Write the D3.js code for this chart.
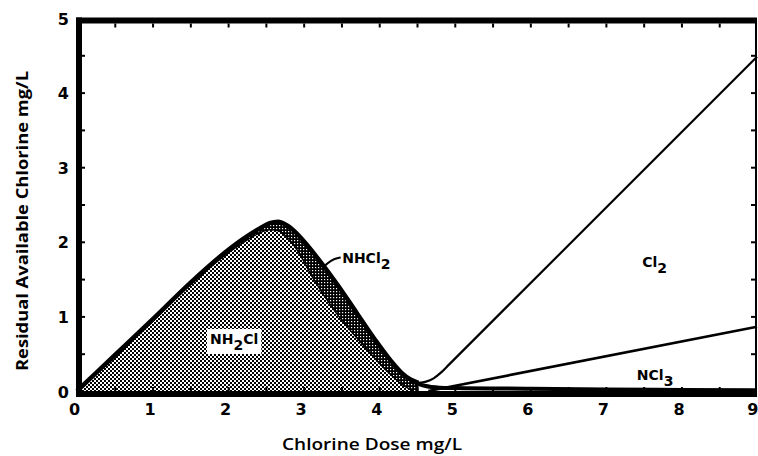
<!DOCTYPE html>
<html><head><meta charset="utf-8">
<script src="https://cdn.jsdelivr.net/npm/d3@7"></script>
<style>body{margin:0;background:#fff}svg{display:block}</style>
</head><body>
<svg id="c" width="758" height="456"></svg>
<script>
// ---- data ----
const doseTicks = [0,1,2,3,4,5,6,7,8,9];
const residualTicks = [0,1,2,3,4,5];
const minorDose = [0.5,1,1.5,2,2.5,3,3.5,4,4.5,5,5.5,6,6.5,7,7.5,8,8.5];
const minorResidual = [0.5,1,1.5,2,2.5,3,3.5,4,4.5];

// total residual (outer heavy curve, up to breakpoint)
const totalDose     = [0, 0.5, 1.0, 1.5, 2.0, 2.2, 2.42, 2.55, 2.66, 2.78, 2.9, 3.05, 3.2, 3.45, 3.7, 3.95, 4.15, 4.3, 4.42, 4.52];
const totalResidual = [0, 0.48, 0.96, 1.45, 1.89, 2.04, 2.18, 2.25, 2.27, 2.22, 2.12, 1.95, 1.76, 1.42, 1.05, 0.68, 0.41, 0.24, 0.15, 0.11];
// monochloramine boundary (inner curve)
const nh2clDose     = [0, 0.5, 1.0, 1.5, 2.0, 2.2, 2.4, 2.55, 2.65, 2.8, 2.95, 3.12, 3.42, 3.8, 4.1, 4.3, 4.45];
const nh2clResidual = [0, 0.45, 0.93, 1.42, 1.85, 1.99, 2.11, 2.16, 2.15, 2.04, 1.83, 1.52, 1.06, 0.6, 0.27, 0.09, 0.0];
// free chlorine after breakpoint
const cl2Dose     = [4.52, 4.62, 4.72, 4.82, 4.92, 9.0];
const cl2Residual = [0.11, 0.125, 0.17, 0.25, 0.35, 4.48];
// trichloramine
const ncl3Dose     = [4.65, 9.0];
const ncl3Residual = [0.0, 0.86];
// combined residual tail near zero
const tailDose     = [4.42, 4.6, 4.8, 5, 6, 7, 8, 9];
const tailResidual = [0.14, 0.07, 0.045, 0.04, 0.03, 0.02, 0.015, 0.01];

// label anchors (data units)
const labels = [
  {main:"NH", sub:"2", rest:"Cl", d:1.76, r:0.63, box:true},
  {main:"NHCl", sub:"2", rest:"", d:3.51, r:1.71},
  {main:"Cl", sub:"2", rest:"", d:7.48, r:1.66},
  {main:"NCl", sub:"3", rest:"", d:7.41, r:0.15}
];
const leaderDose = [3.24, 3.36, 3.49];
const leaderResidual = [1.64, 1.76, 1.79];

// ---- drawing ----
const svg = d3.select("#c");
const x = d3.scaleLinear().domain([0,9]).range([77,757]);
const y = d3.scaleLinear().domain([0,5]).range([391,18]);

const defs = svg.append("defs");
const p1 = defs.append("pattern").attr("id","nh2cl").attr("patternUnits","userSpaceOnUse").attr("width",4).attr("height",4);
p1.append("rect").attr("width",4).attr("height",4).attr("fill","#fff");
p1.append("rect").attr("width",2).attr("height",2).attr("fill","#000");
p1.append("rect").attr("x",2).attr("y",2).attr("width",2).attr("height",2).attr("fill","#000");
const p2 = defs.append("pattern").attr("id","nhcl2").attr("patternUnits","userSpaceOnUse").attr("width",3).attr("height",3);
p2.append("rect").attr("width",3).attr("height",3).attr("fill","#000");
p2.append("rect").attr("width",1.2).attr("height",1.2).attr("fill","#fff");

const zip = (a,b) => a.map((v,i)=>[v,b[i]]);
const total = zip(totalDose,totalResidual);
const nh2cl = zip(nh2clDose,nh2clResidual);

const area = d3.area().x(d=>x(d[0])).y0(y(0)).y1(d=>y(d[1])).curve(d3.curveMonotoneX);
const line = d3.line().x(d=>x(d[0])).y(d=>y(d[1])).curve(d3.curveMonotoneX);

svg.append("path").attr("d",area(total)).attr("fill","url(#nhcl2)");
svg.append("path").attr("d",area(nh2cl)).attr("fill","url(#nh2cl)");
svg.append("path").attr("d",line(nh2cl)).attr("fill","none").attr("stroke","#000").attr("stroke-width",1.5);
svg.append("path").attr("d",line(total)).attr("fill","none").attr("stroke","#000").attr("stroke-width",4.5).attr("stroke-linejoin","round");
svg.append("path").attr("d",line(zip(cl2Dose,cl2Residual))).attr("fill","none").attr("stroke","#000").attr("stroke-width",2.2);
svg.append("path").attr("d",line(zip(ncl3Dose,ncl3Residual))).attr("fill","none").attr("stroke","#000").attr("stroke-width",2.6);
svg.append("path").attr("d",line(zip(tailDose,tailResidual))).attr("fill","none").attr("stroke","#000").attr("stroke-width",4);
svg.append("path").attr("d",d3.line().x(d=>x(d[0])).y(d=>y(d[1])).curve(d3.curveBasis)(zip(leaderDose,leaderResidual)))
  .attr("fill","none").attr("stroke","#000").attr("stroke-width",2);

// frame
const L = x(0)+2, R = x(9)-1, T = y(5)+2.5, B = y(0)+3;
svg.append("line").attr("x1",L).attr("x2",L).attr("y1",T-3).attr("y2",B+3).attr("stroke","#000").attr("stroke-width",6);
svg.append("line").attr("x1",L-3).attr("x2",R+1).attr("y1",B).attr("y2",B).attr("stroke","#000").attr("stroke-width",6);
svg.append("line").attr("x1",L-3).attr("x2",R+1).attr("y1",T).attr("y2",T).attr("stroke","#000").attr("stroke-width",6);
svg.append("line").attr("x1",R).attr("x2",R).attr("y1",T).attr("y2",B).attr("stroke","#000").attr("stroke-width",2);

// minor ticks via axes
function tickAxis(gen, vals, tx, ty, size){
  const g = svg.append("g").attr("transform",`translate(${tx},${ty})`)
    .call(gen.tickValues(vals).tickSize(size).tickFormat(""));
  g.select(".domain").remove();
  g.selectAll("line").attr("stroke","#000").attr("stroke-width",2);
}
tickAxis(d3.axisBottom(x), minorDose, 0, B-3, -4);
tickAxis(d3.axisTop(x), minorDose, 0, T+3, -4);
tickAxis(d3.axisLeft(y), minorResidual, L+3, 0, -3);
tickAxis(d3.axisRight(y), minorResidual, R-1, 0, -4);

// tick labels
const font = "'DejaVu Sans', sans-serif";
const gx = svg.append("g").attr("transform",`translate(-3,${B+4})`)
  .call(d3.axisBottom(x).tickValues(doseTicks).tickSize(0).tickPadding(6).tickFormat(d3.format("d")));
gx.select(".domain").remove();
gx.selectAll("text").attr("font-family",font).attr("font-weight","bold").attr("font-size",16).attr("fill","#000");
gx.selectAll("text").filter(d=>d===9).attr("text-anchor","end").attr("dx",4);
const gy = svg.append("g").attr("transform",`translate(69,1)`)
  .call(d3.axisLeft(y).tickValues(residualTicks).tickSize(0).tickPadding(0).tickFormat(d3.format("d")));
gy.select(".domain").remove();
gy.selectAll("text").attr("font-family",font).attr("font-weight","bold").attr("font-size",16).attr("fill","#000");

// axis titles
svg.append("text").attr("x",372).attr("y",450).attr("text-anchor","middle")
  .attr("font-family","'Open Sans', sans-serif").attr("font-weight",600).attr("font-size",17).attr("fill","#000")
  .attr("textLength",180).attr("lengthAdjust","spacingAndGlyphs")
  .text("Chlorine Dose mg/L");
svg.append("text").attr("transform","translate(28,221) rotate(-90)").attr("text-anchor","middle")
  .attr("font-family","'Open Sans', sans-serif").attr("font-weight",700).attr("font-size",16.5).attr("fill","#000")
  .attr("textLength",300).attr("lengthAdjust","spacingAndGlyphs")
  .text("Residual Available Chlorine mg/L");

// species labels
labels.forEach(l=>{
  const t = svg.append("text").attr("x",x(l.d)).attr("y",y(l.r))
    .attr("font-family",font).attr("font-weight","bold").attr("font-size",14).attr("fill","#000");
  t.append("tspan").text(l.main);
  t.append("tspan").attr("dy",6).text(l.sub);
  if(l.rest) t.append("tspan").attr("dy",-6).text(l.rest);
  if(l.box){
    const bb = t.node().getBBox();
    svg.insert("rect", () => t.node()).attr("x",bb.x-3).attr("y",bb.y-2).attr("width",bb.width+6).attr("height",bb.height+3).attr("fill","#fff");
  }
});
</script>
</body></html>
